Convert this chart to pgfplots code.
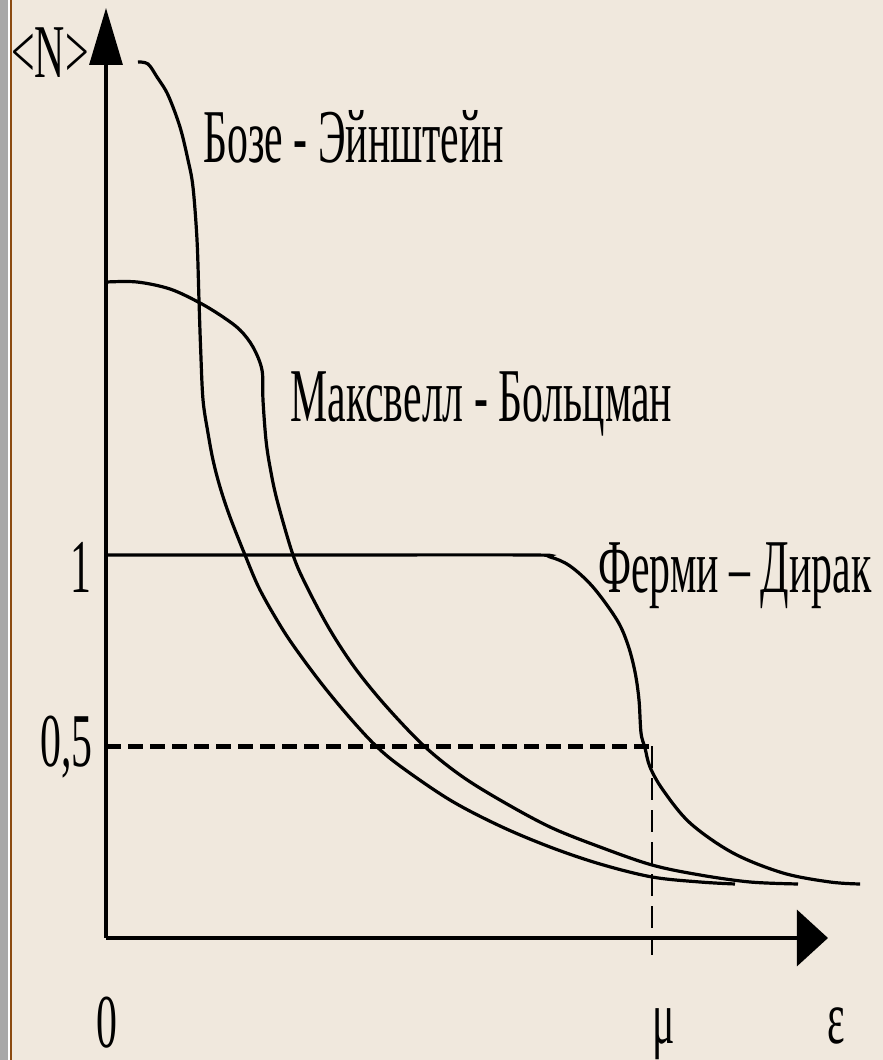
\documentclass[border=0pt]{standalone}
\usepackage{fontspec}
\setmainfont{Liberation Serif}[FakeStretch=0.55]
\usepackage{pgfplots}
\pgfplotsset{compat=1.18}
\usetikzlibrary{arrows.meta}
\definecolor{bg}{HTML}{F0E8DD}
\definecolor{brd}{HTML}{8B4A10}
\definecolor{gry}{HTML}{A8A8A8}
\begin{document}
\begin{tikzpicture}
\begin{axis}[
  scale only axis, width=441.5pt, height=530pt,
  xmin=-0.19414, xmax=1.42308, ymin=-0.31854, ymax=2.44909,
  axis lines=none, ticks=none, clip=false,
  cycle list={{black}},
  every axis plot/.append style={line width=1.6pt, smooth, tension=0.55, no marks},
]
\fill[bg] (rel axis cs:0,0) rectangle (rel axis cs:1,1);
\fill[gry] (axis cs:-0.19414,-0.31854) rectangle (axis cs:-0.17949,2.44909);
\fill[white] (axis cs:-0.17949,-0.31854) rectangle (axis cs:-0.17582,2.44909);
\fill[brd] (axis cs:-0.17582,-0.31854) rectangle (axis cs:-0.17125,2.44909);
\coordinate (SW) at (rel axis cs:0,0);
\coordinate (NE) at (rel axis cs:1,1);
% axes
\draw[line width=1.6pt, -{Triangle[length=28.5pt,width=16.5pt]}] (axis cs:0,0) -- (axis cs:0,2.4282);
\draw[line width=1.6pt, -{Triangle[length=15.5pt,width=28pt]}] (axis cs:0,0) -- (axis cs:1.3223,0);
% dashed guides
\addplot[black, line width=2.2pt, dash pattern=on 7.5pt off 3.5pt, sharp plot] coordinates {(0,0.5) (1,0.5)};
\addplot[black, line width=1.1pt, dash pattern=on 11pt off 5pt, sharp plot] coordinates {(1,0.5) (1,-0.0444)};
% Bose-Einstein
\addplot coordinates {
(0.0586,2.2872) (0.0769,2.2820) (0.0934,2.2480) (0.1136,2.2010) (0.1355,2.1175)
(0.1502,2.0313) (0.1593,1.9608) (0.1667,1.8225) (0.1703,1.6658) (0.1734,1.5353)
(0.1777,1.4047) (0.1868,1.3185) (0.1960,1.2480) (0.2088,1.1775) (0.2271,1.0992)
(0.2546,1.0000) (0.2821,0.9086) (0.3242,0.8042) (0.3608,0.7285) (0.4011,0.6527)
(0.4469,0.5744) (0.4927,0.5039) (0.5385,0.4491) (0.6300,0.3603) (0.7216,0.2924)
(0.8132,0.2376) (0.9048,0.1932) (1.0000,0.1593) (1.0879,0.1462) (1.1520,0.1410)};
% Maxwell-Boltzmann
\addplot coordinates {
(0.0018,1.7128) (0.0568,1.7128) (0.1172,1.6945) (0.1722,1.6580) (0.2143,1.6214)
(0.2454,1.5875) (0.2692,1.5431) (0.2857,1.4830) (0.2875,1.4047) (0.2930,1.3003)
(0.3004,1.2298) (0.3132,1.1436) (0.3425,1.0000) (0.3681,0.9164) (0.4103,0.8042)
(0.4560,0.7050) (0.5110,0.6084) (0.5806,0.5039) (0.6484,0.4256) (0.7216,0.3603)
(0.8132,0.2898) (0.9048,0.2376) (1.0000,0.1906) (1.0879,0.1645) (1.1795,0.1462)
(1.2674,0.1410)};
% Fermi-Dirac
\addplot coordinates {
(0.0037,1.0) (0.4,1.0) (0.7766,1.0) (0.8132,0.9948) (0.8498,0.9713) (0.8919,0.9164)
(0.9359,0.8303) (0.9560,0.7650) (0.9689,0.6945) (0.9762,0.6214) (0.9799,0.5352)
(0.9872,0.4961) (0.9963,0.4465) (1.0201,0.3864) (1.0696,0.3003) (1.1484,0.2219)
(1.2399,0.1697) (1.3260,0.1462) (1.3810,0.1410)};
% labels
\tikzset{lbl/.style={inner sep=0pt, font=\fontsize{38}{40}\selectfont}}
\node[lbl, anchor=base west] at (axis cs:-0.1740,2.2454) {<N>};
\node[lbl, anchor=base west] at (axis cs:0.1777,2.0235) {Бозе - Эйнштейн};
\node[lbl, anchor=base west] at (axis cs:0.3370,1.3473) {Максвелл - Больцман};
\node[lbl, anchor=base west] at (axis cs:0.9011,0.9008) {Ферми – Дирак};
\node[lbl, anchor=base east] at (axis cs:-0.0256,0.9008) {1};
\node[lbl, anchor=base east] at (axis cs:-0.0238,0.4465) {0,5};
\node[lbl, anchor=base] at (axis cs:0.0018,-0.2846) {0};
\node[lbl, anchor=base west] at (axis cs:1.0,-0.2742) {μ};
\node[lbl, anchor=base west] at (axis cs:1.3205,-0.2742) {ε};
\end{axis}
\pgfresetboundingbox
\useasboundingbox (SW) rectangle (NE);
\end{tikzpicture}
\end{document}
